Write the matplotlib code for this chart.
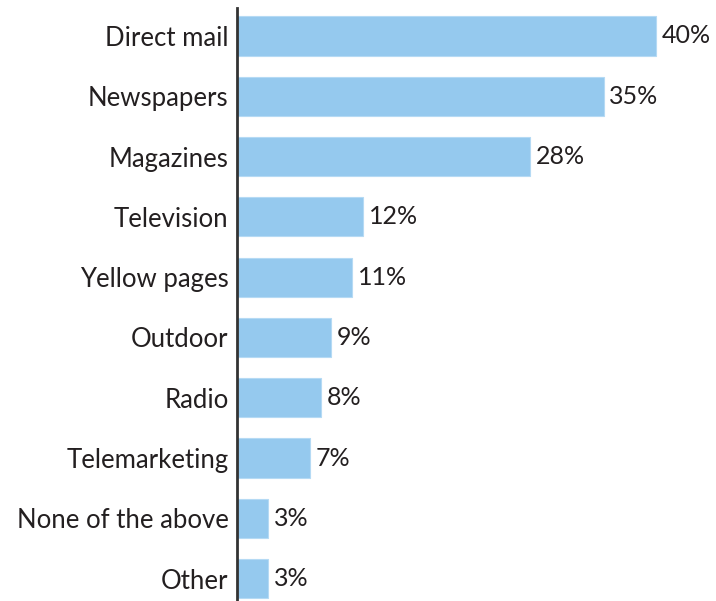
import matplotlib
matplotlib.use('Agg')
import matplotlib.pyplot as plt

# Media share, percent
categories = ['Direct mail', 'Newspapers', 'Magazines', 'Television', 'Yellow pages',
              'Outdoor', 'Radio', 'Telemarketing', 'None of the above', 'Other']
values = [40, 35, 28, 12, 11, 9, 8, 7, 3, 3]

plt.rcParams['font.family'] = ['Lato', 'DejaVu Sans']

fig = plt.figure(figsize=(7.16, 6.01), dpi=100)
ax = fig.add_axes([237 / 716, 0, 479 / 716, 593 / 601])

pos = list(range(len(categories)))
ax.barh(pos, values, height=0.65, color='#95c9ee', edgecolor='#b5daf4', linewidth=0.8)

for p, v in zip(pos, values):
    ax.text(v + 0.55, p, f'{v}%', va='center', ha='left', fontsize=18, color='#231f20')

ax.set_yticks(pos)
ax.set_yticklabels(categories, fontsize=18.5, color='#231f20')
ax.tick_params(axis='y', length=0, pad=6.2)
ax.set_xticks([])
ax.set_xlim(0, 40 * 479 / 419)
ax.set_ylim(9.37, -0.464)

for s in ['top', 'right', 'bottom']:
    ax.spines[s].set_visible(False)
ax.spines['left'].set_linewidth(2)
ax.spines['left'].set_color('#333333')

fig.savefig('out.png', dpi=100)
